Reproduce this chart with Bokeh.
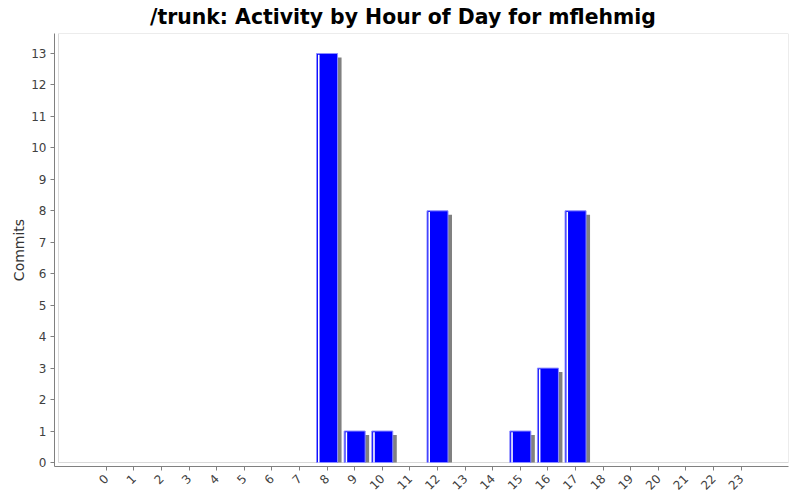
import math
from bokeh.plotting import figure
from bokeh.models import FixedTicker, BoxAnnotation, Range1d, ColumnDataSource
from bokeh.embed import file_html
from bokeh.resources import INLINE

# ---- data ----
hours = list(range(24))
commits = [0, 0, 0, 0, 0, 0, 0, 0, 13, 1, 1, 0, 8, 0, 0, 1, 3, 8, 0, 0, 0, 0, 0, 0]
y_ticks = list(range(14))
title_text = "/trunk: Activity by Hour of Day for mflehmig"
y_label = "Commits"

# ---- geometry (styling) ----
W, H = 800, 500
FL, FR, FT, FB = 54, 12, 33, 34          # borders around frame
frame_w = W - FL - FR
frame_h = H - FT - FB
x_start, x_end = -1.872, 24.713
y_start, y_end = -0.127, 13.636
ux = (x_end - x_start) / frame_w       # data units per pixel
uy = (y_end - y_start) / frame_h
bar_w = 21 * ux

xs = [h for h, c in zip(hours, commits) if c > 0]
ys = [c for c in commits if c > 0]
src = ColumnDataSource(dict(
    x=xs, top=ys,
    sx=[x + 4 * ux for x in xs],
    stop=[t - 4 * uy for t in ys],
    wx=[x - bar_w / 2 + 2.2 * ux for x in xs],
    wtop=[t - 1.2 * uy for t in ys],
))

p = figure(width=W, height=H, output_backend="svg", toolbar_location=None,
           x_range=Range1d(x_start, x_end), y_range=Range1d(y_start, y_end),
           min_border_left=FL, min_border_right=FR, min_border_top=FT,
           min_border_bottom=FB, title=title_text)
p.background_fill_color = "white"
p.border_fill_color = "white"
p.outline_line_color = None
p.grid.visible = False

p.title.align = "left"
p.title.offset = 95.5
p.title.vertical_align = "top"
p.title.text_font = "DejaVu Sans"
p.title.text_font_size = "20.4px"
p.title.text_font_style = "bold"
p.title.text_color = "black"
p.title.standoff = 6

# plot-area border (inset from axis lines)
p.add_layout(BoxAnnotation(left=x_start + 4 * ux, bottom=y_start + 4 * uy,
                           fill_color=None, line_color="#808080", line_width=1,
                           level="underlay"))

# shadows
p.vbar(x="sx", width=bar_w, top="stop", bottom=0, source=src,
       fill_color="#808080", line_color=None)
# bars
p.vbar(x="x", width=bar_w, top="top", bottom=0, source=src,
       fill_color="#0000ff", line_color="#8c8cff", line_width=1)
# highlight stripe
p.vbar(x="wx", width=1.6 * ux, top="wtop", bottom=0, source=src,
       fill_color="white", line_color=None)

for ax in (p.xaxis[0], p.yaxis[0]):
    ax.axis_line_color = "#808080"
    ax.major_tick_line_color = "#808080"
    ax.major_tick_in = 0
    ax.major_tick_out = 4
    ax.minor_tick_line_color = None
    ax.major_label_text_font = "DejaVu Sans"
    ax.major_label_text_font_size = "12px"
    ax.major_label_text_color = "#404040"

p.xaxis.major_label_standoff = 6
p.yaxis.major_label_standoff = 4
p.xaxis.ticker = FixedTicker(ticks=hours)
p.xaxis.major_label_orientation = math.pi / 4
p.yaxis.ticker = FixedTicker(ticks=y_ticks)
p.yaxis.axis_label = y_label
p.yaxis.axis_label_text_font = "DejaVu Sans"
p.yaxis.axis_label_text_font_size = "14px"
p.yaxis.axis_label_text_font_style = "normal"
p.yaxis.axis_label_text_color = "#333333"
p.yaxis.axis_label_standoff = 1

open("out.html", "w").write(file_html(p, INLINE))
